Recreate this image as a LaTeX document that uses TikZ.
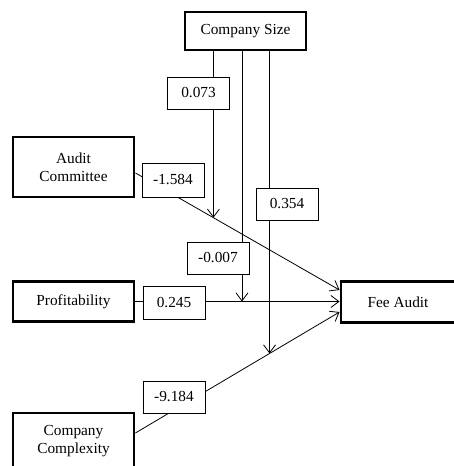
\documentclass[tikz,border=0pt]{standalone}
\usepackage{fontspec}
\setmainfont{Liberation Serif}
\usepackage{tikz}
\usetikzlibrary{arrows.meta}
\usetikzlibrary{calc}
\newlength{\pxunit}
\setlength{\pxunit}{0.75pt}
\tikzstyle{varstyle}=[draw, line width=2.2pt, rectangle, align=center, minimum width=121\pxunit, inner sep=2pt, font=\fontsize{11.5}{13.5}\selectfont]
\tikzstyle{coefstyle}=[draw, semithick, fill=white, rectangle, minimum width=62\pxunit, minimum height=32\pxunit, inner sep=1pt, font=\fontsize{11.5}{13.5}\selectfont]
\tikzstyle{edgestyle}=[draw, semithick, -{Straight Barb[length=6pt, width=9pt]}]

\begin{document}
\begin{tikzpicture}[x=\pxunit, y=-\pxunit]
\useasboundingbox (0,0) rectangle (453,466);
\node [varstyle, minimum height=38\pxunit] (size) at (245.5,31) {Company Size};
\node [varstyle, minimum height=60\pxunit] (audit) at (73.5,167) {Audit\\Committee};
\node [varstyle, minimum height=40\pxunit] (profit) at (73.5,301.5) {Profitability};
\node [varstyle, minimum height=57\pxunit] (complex) at (73.5,441.5) {Company\\Complexity};
\node [varstyle, minimum width=114\pxunit, minimum height=41\pxunit] (fee) at (398,302) {Fee Audit};
\coordinate (a1) at ([yshift=-4.5pt]audit.east);
\coordinate (f1) at ([yshift=9pt]fee.west);
\coordinate (c1) at ([yshift=6.4pt]complex.east);
\coordinate (f3) at ([yshift=-7.5pt]fee.west);
\coordinate (m1) at ($(a1)!0.382!(f1)$);
\coordinate (m2) at ($(profit.east)!0.522!(profit.east -| fee.west)$);
\coordinate (m3) at ($(c1)!0.657!(f3)$);
\draw [edgestyle] (a1) -- (f1);
\draw [edgestyle] (profit.east) -- (profit.east -| fee.west);
\draw [edgestyle] (c1) -- (f3);
\draw [edgestyle] (size.south -| m1) -- (m1);
\draw [edgestyle] (size.south -| m2) -- (m2);
\draw [edgestyle] (size.south -| m3) -- (m3);
\node [coefstyle] (c073) at (198.5,93) {0.073};
\node [coefstyle, minimum height=34\pxunit] (c1584) at (173,180) {-1.584};
\node [coefstyle] (c354) at (287,204) {0.354};
\node [coefstyle] (c007) at (218,258) {-0.007};
\node [coefstyle, minimum height=33\pxunit] (c245) at (174,302.5) {0.245};
\node [coefstyle] (c9184) at (174,397) {-9.184};
\end{tikzpicture}
\end{document}
